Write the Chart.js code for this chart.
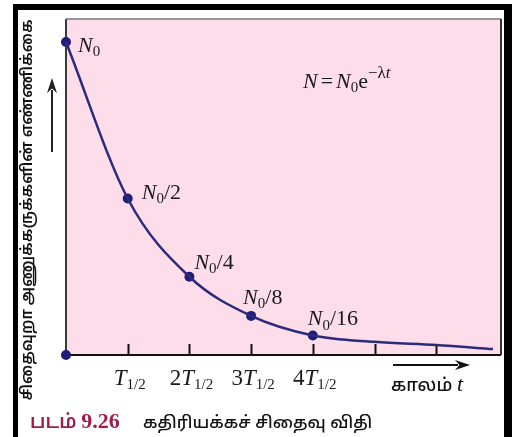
<!DOCTYPE html>
<html>
<head>
<meta charset="utf-8">
<script src="https://cdn.jsdelivr.net/npm/chart.js@4.4.1/dist/chart.umd.min.js"></script>
<style>
  html, body { margin: 0; padding: 0; background: #ffffff; }
  canvas { display: block; }
</style>
</head>
<body>
<canvas id="decay" width="512" height="437"></canvas>
<script>
// Elapsed time in half-lives and the remaining fraction of nuclei
const markerT = [0, 1, 2, 3, 4];
const markerN = [1, 0.5, 0.25, 0.125, 0.0625];
const markerLabels = [['N', '0', ''], ['N', '0', '/2'], ['N', '0', '/4'], ['N', '0', '/8'], ['N', '0', '/16']];

// Smooth decay curve, including its flat tail after 4 half-lives
const curveT = [0, 1, 2, 3, 4, 5, 6, 6.92];
const curveN = [1, 0.5, 0.25, 0.125, 0.0625, 0.042, 0.032, 0.019];

// Tick marks along the time axis and the labelled ones
const tickT = [1, 2, 3, 4, 5, 6];
const tickLabels = [['', 'T'], ['2', 'T'], ['3', 'T'], ['4', 'T']];

const yTitle = 'சிதைவுறா அணுக்கருக்களின் எண்ணிக்கை';
const xTitle = 'காலம்';
const captionNum = 'படம்';
const captionFig = '9.26';
const captionText = 'கதிரியக்கச் சிதைவு விதி';

const PINK = '#fcdde9';
const INK = '#2c2a7c';
const DOT = '#1f1d78';
const SERIF = '"Liberation Serif", "DejaVu Serif", serif';
const SANS = '"Noto Sans Tamil", "Noto Sans", "DejaVu Sans", sans-serif';

// Writes "N₀/k"-style math labels: italic main, subscript, trailing text
function mathLabel(ctx, x, y, main, sub, tail, size) {
  ctx.textBaseline = 'alphabetic';
  ctx.textAlign = 'left';
  ctx.font = 'italic ' + size + 'px ' + SERIF;
  ctx.fillText(main, x, y);
  x += ctx.measureText(main).width;
  ctx.font = Math.round(size * 0.7) + 'px ' + SERIF;
  ctx.fillText(sub, x, y + size * 0.2);
  x += ctx.measureText(sub).width;
  ctx.font = size + 'px ' + SERIF;
  ctx.fillText(tail, x, y);
  x += ctx.measureText(tail).width;
  return x;
}

function arrow(ctx, x1, y1, x2, y2, head, wid) {
  const a = Math.atan2(y2 - y1, x2 - x1);
  ctx.beginPath();
  ctx.moveTo(x1, y1);
  ctx.lineTo(x2 - Math.cos(a) * head * 0.8, y2 - Math.sin(a) * head * 0.8);
  ctx.stroke();
  ctx.beginPath();
  ctx.moveTo(x2, y2);
  ctx.lineTo(x2 - Math.cos(a) * head - Math.sin(a) * wid, y2 - Math.sin(a) * head + Math.cos(a) * wid);
  ctx.lineTo(x2 - Math.cos(a) * head * 0.7, y2 - Math.sin(a) * head * 0.7);
  ctx.lineTo(x2 - Math.cos(a) * head + Math.sin(a) * wid, y2 - Math.sin(a) * head - Math.cos(a) * wid);
  ctx.closePath();
  ctx.fill();
}

const backdrop = {
  id: 'backdrop',
  beforeDraw(chart) {
    const { ctx, chartArea: a } = chart;
    ctx.save();
    ctx.fillStyle = '#ffffff';
    ctx.fillRect(0, 0, chart.width, chart.height);
    ctx.fillStyle = PINK;
    ctx.fillRect(a.left, a.top, a.right - a.left, a.bottom - a.top);
    ctx.restore();
  },
  beforeDatasetsDraw(chart) {
    const { ctx, chartArea: a, scales: { x, y } } = chart;
    ctx.save();
    // box edges
    ctx.strokeStyle = '#3a3a3a';
    ctx.lineWidth = 2;
    ctx.beginPath();
    ctx.moveTo(a.left, a.bottom);
    ctx.lineTo(a.left, a.top);
    ctx.stroke();
    ctx.strokeStyle = '#777777';
    ctx.lineWidth = 1.5;
    ctx.beginPath();
    ctx.moveTo(a.left, a.top);
    ctx.lineTo(a.right, a.top);
    ctx.stroke();
    ctx.strokeStyle = '#333333';
    ctx.lineWidth = 2;
    ctx.beginPath();
    ctx.moveTo(a.right, a.top);
    ctx.lineTo(a.right, a.bottom);
    ctx.stroke();
    // time axis and inward ticks
    const y0 = y.getPixelForValue(0);
    ctx.strokeStyle = '#111111';
    ctx.lineWidth = 2;
    ctx.beginPath();
    ctx.moveTo(a.left, y0);
    ctx.lineTo(a.right, y0);
    ctx.stroke();
    tickT.forEach(t => {
      const px = Math.round(x.getPixelForValue(t)) + 0.5;
      ctx.beginPath();
      ctx.moveTo(px, y0);
      ctx.lineTo(px, y0 - 11);
      ctx.stroke();
    });
    ctx.restore();
  },
  afterDraw(chart) {
    const { ctx, chartArea: a, scales: { x, y } } = chart;
    ctx.save();
    ctx.fillStyle = '#111111';

    // labels at the half-life markers
    const offs = [[12, 10], [14, 0], [5, -8], [-8, -12], [-5, -10]];
    markerT.forEach((t, i) => {
      const px = x.getPixelForValue(t) + offs[i][0];
      const py = y.getPixelForValue(markerN[i]) + offs[i][1];
      const l = markerLabels[i];
      ctx.fillStyle = '#1a1a1a';
      mathLabel(ctx, px, py, l[0], l[1], l[2], 22);
    });

    // law of decay
    ctx.fillStyle = '#1a1a1a';
    let ex = 303, ey = 88;
    ctx.font = 'italic 22px ' + SERIF;
    ctx.fillText('N', ex, ey);
    ex += ctx.measureText('N').width + 3;
    ctx.font = '22px ' + SERIF;
    ctx.fillText('=', ex, ey);
    ex += ctx.measureText('=').width + 3;
    ex = mathLabel(ctx, ex, ey, 'N', '0', 'e', 22);
    ctx.font = '17px ' + SERIF;
    ctx.fillText('\u2212\u03bb', ex, ey - 10);
    ex += ctx.measureText('\u2212\u03bb').width;
    ctx.font = 'italic 17px ' + SERIF;
    ctx.fillText('t', ex, ey - 10);

    // time tick labels
    const ty = y.getPixelForValue(0) + 30;
    tickLabels.forEach((lab, i) => {
      ctx.font = '23px ' + SERIF;
      const w1 = ctx.measureText(lab[0]).width;
      ctx.font = 'italic 23px ' + SERIF;
      const w2 = ctx.measureText(lab[1]).width;
      ctx.font = '15px ' + SERIF;
      const w3 = ctx.measureText('1/2').width;
      let lx = x.getPixelForValue(tickT[i]) - (w1 + w2 + w3) / 2 + 2;
      ctx.font = '23px ' + SERIF;
      ctx.fillText(lab[0], lx, ty);
      lx += w1;
      ctx.font = 'italic 23px ' + SERIF;
      ctx.fillText(lab[1], lx, ty);
      lx += w2;
      ctx.font = '15px ' + SERIF;
      ctx.fillText('1/2', lx, ty + 4);
    });

    // time axis title with arrow
    ctx.strokeStyle = '#111111';
    ctx.fillStyle = '#111111';
    ctx.lineWidth = 2;
    arrow(ctx, 393, 365, 470, 365, 15, 5);
    ctx.font = '500 18px ' + SANS;
    ctx.fillText(xTitle, 391, 391);
    const xw = ctx.measureText(xTitle + ' ').width;
    ctx.font = 'italic 22px ' + SERIF;
    ctx.fillText('t', 391 + xw, 391);

    // count axis arrow and rotated title
    ctx.strokeStyle = '#222222';
    ctx.fillStyle = '#222222';
    arrow(ctx, 52, 152, 52, 78, 15, 5);
    ctx.save();
    ctx.translate(32, 210);
    ctx.rotate(-Math.PI / 2);
    ctx.fillStyle = '#111111';
    ctx.textAlign = 'center';
    ctx.textBaseline = 'alphabetic';
    ctx.font = '600 15.5px ' + SANS;
    ctx.fillText(yTitle, 0, 0);
    ctx.restore();

    // caption
    ctx.textAlign = 'left';
    ctx.fillStyle = '#a11d48';
    ctx.font = '600 19px ' + SANS;
    ctx.fillText(captionNum, 30, 428);
    let cx = 30 + ctx.measureText(captionNum + ' ').width;
    ctx.font = 'bold 22px ' + SERIF;
    ctx.fillText(captionFig, cx, 428);
    ctx.fillStyle = '#111111';
    ctx.font = '500 17px ' + SANS;
    ctx.fillText(captionText, 143, 428);

    // outer frame
    ctx.fillStyle = '#000000';
    ctx.fillRect(13, 4, 5, chart.height - 4);
    ctx.fillRect(13, 4, 499, 6);
    ctx.fillRect(504, 4, 8, chart.height - 4);
    ctx.restore();
  }
};

new Chart(document.getElementById('decay'), {
  type: 'scatter',
  data: {
    datasets: [
      {
        label: 'curve',
        data: curveT.map((t, i) => ({ x: t, y: curveN[i] })),
        showLine: true,
        borderColor: INK,
        borderWidth: 2.5,
        pointRadius: 0,
        cubicInterpolationMode: 'monotone',
        clip: false
      },
      {
        label: 'half-lives',
        data: markerT.map((t, i) => ({ x: t, y: markerN[i] })).concat([{ x: 0, y: 0 }]),
        showLine: false,
        pointRadius: 5,
        pointBackgroundColor: DOT,
        pointBorderWidth: 0,
        clip: false
      }
    ]
  },
  options: {
    responsive: false,
    animation: false,
    layout: { padding: { left: 66, right: 11, top: 19, bottom: 82 } },
    plugins: { legend: { display: false }, tooltip: { enabled: false } },
    scales: {
      x: { type: 'linear', display: false, min: 0, max: 7.05 },
      y: { type: 'linear', display: false, min: 0, max: 1.0735 }
    }
  },
  plugins: [backdrop]
});
</script>
</body>
</html>
